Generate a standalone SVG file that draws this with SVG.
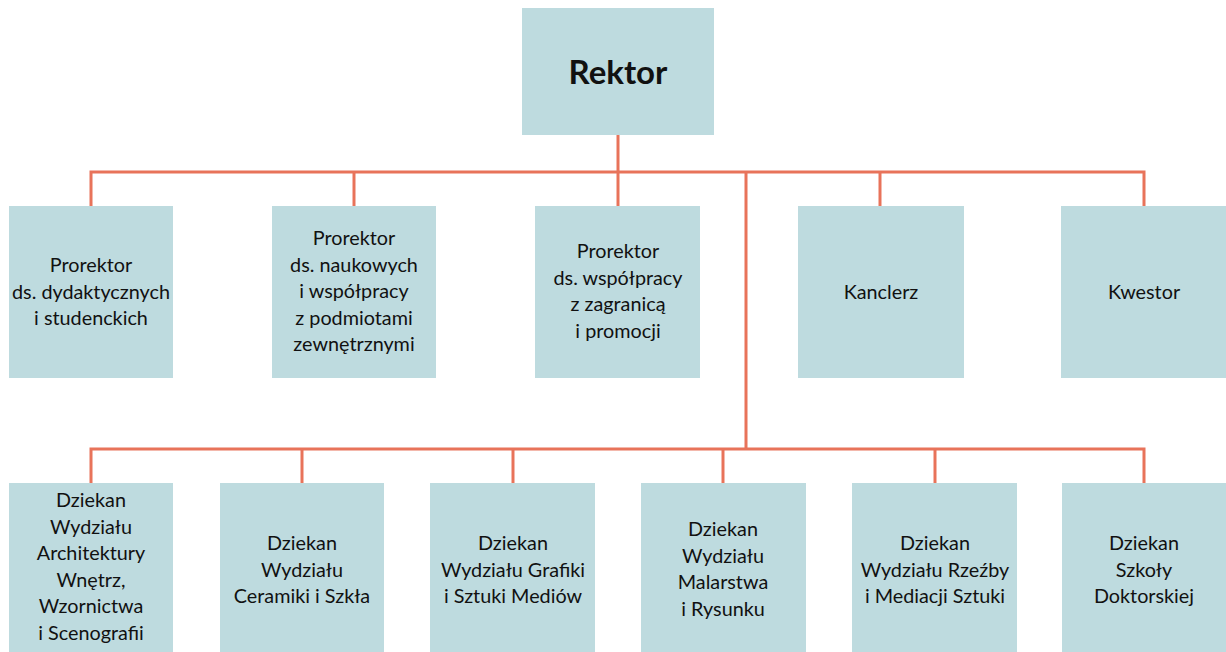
<svg xmlns="http://www.w3.org/2000/svg" width="1226" height="652" viewBox="0 0 1226 652">
<style>
.box{fill:#bedbdf}
.t{font-family:Lato,"Open Sans","Liberation Sans",sans-serif;font-size:19.8px;fill:#111;text-anchor:middle}
.b{font-size:33px;font-weight:bold}
.ln{stroke:#e8735a;stroke-width:3;fill:none}
</style>
<rect width="1226" height="652" fill="#fff"/>
<g id="connectors" class="ln">
<path d="M618 135V206"/>
<path d="M91 206V172H1144V206"/>
<path d="M354 172V206"/>
<path d="M880 172V206"/>
<path d="M746 172V449"/>
<path d="M91 483V449H1144V483"/>
<path d="M302 449V483"/>
<path d="M513 449V483"/>
<path d="M723 449V483"/>
<path d="M935 449V483"/>
</g>
<g id="rektor"><rect class="box" x="522" y="8" width="192" height="127"/><text class="t b" x="618" y="84">Rektor</text></g>
<g id="prorektor1"><rect class="box" x="9" y="206" width="164" height="172"/><text class="t" x="91" y="272"><tspan x="91">Prorektor</tspan><tspan x="91" dy="26.6">ds. dydaktycznych</tspan><tspan x="91" dy="26.6">i studenckich</tspan></text></g>
<g id="prorektor2"><rect class="box" x="272" y="206" width="164" height="172"/><text class="t" x="354" y="245"><tspan x="354">Prorektor</tspan><tspan x="354" dy="26.6">ds. naukowych</tspan><tspan x="354" dy="26.6">i współpracy</tspan><tspan x="354" dy="26.6">z podmiotami</tspan><tspan x="354" dy="26.6">zewnętrznymi</tspan></text></g>
<g id="prorektor3"><rect class="box" x="535" y="206" width="165" height="172"/><text class="t" x="618" y="258"><tspan x="618">Prorektor</tspan><tspan x="618" dy="26.6">ds. współpracy</tspan><tspan x="618" dy="26.6">z zagranicą</tspan><tspan x="618" dy="26.6">i promocji</tspan></text></g>
<g id="kanclerz"><rect class="box" x="798" y="206" width="166" height="172"/><text class="t" x="881" y="299">Kanclerz</text></g>
<g id="kwestor"><rect class="box" x="1061" y="206" width="165" height="172"/><text class="t" x="1144" y="299">Kwestor</text></g>
<g id="dziekan1"><rect class="box" x="9" y="483" width="164" height="174"/><text class="t" x="91" y="507"><tspan x="91">Dziekan</tspan><tspan x="91" dy="26.6">Wydziału</tspan><tspan x="91" dy="26.6">Architektury</tspan><tspan x="91" dy="26.6">Wnętrz,</tspan><tspan x="91" dy="26.6">Wzornictwa</tspan><tspan x="91" dy="26.6">i Scenografii</tspan></text></g>
<g id="dziekan2"><rect class="box" x="220" y="483" width="164" height="174"/><text class="t" x="302" y="550"><tspan x="302">Dziekan</tspan><tspan x="302" dy="26.6">Wydziału</tspan><tspan x="302" dy="26.6">Ceramiki i Szkła</tspan></text></g>
<g id="dziekan3"><rect class="box" x="430" y="483" width="165" height="174"/><text class="t" x="513" y="550"><tspan x="513">Dziekan</tspan><tspan x="513" dy="26.6">Wydziału Grafiki</tspan><tspan x="513" dy="26.6">i Sztuki Mediów</tspan></text></g>
<g id="dziekan4"><rect class="box" x="641" y="483" width="165" height="174"/><text class="t" x="723" y="536"><tspan x="723">Dziekan</tspan><tspan x="723" dy="26.6">Wydziału</tspan><tspan x="723" dy="26.6">Malarstwa</tspan><tspan x="723" dy="26.6">i Rysunku</tspan></text></g>
<g id="dziekan5"><rect class="box" x="852" y="483" width="165" height="174"/><text class="t" x="935" y="550"><tspan x="935">Dziekan</tspan><tspan x="935" dy="26.6">Wydziału Rzeźby</tspan><tspan x="935" dy="26.6">i Mediacji Sztuki</tspan></text></g>
<g id="dziekan6"><rect class="box" x="1062" y="483" width="164" height="174"/><text class="t" x="1144" y="550"><tspan x="1144">Dziekan</tspan><tspan x="1144" dy="26.6">Szkoły</tspan><tspan x="1144" dy="26.6">Doktorskiej</tspan></text></g>
</svg>
